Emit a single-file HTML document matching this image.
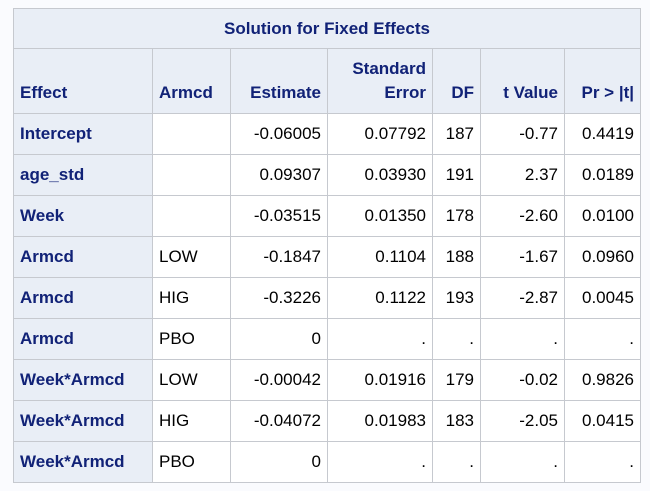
<!DOCTYPE html>
<html><head><meta charset="utf-8"><style>
html,body{margin:0;padding:0;background:#fafbfe;width:650px;height:491px;overflow:hidden}
table{position:absolute;left:13px;top:8px;border-collapse:collapse;font-family:"Liberation Sans",Arial,sans-serif;font-size:17px;color:#000;table-layout:fixed}
td,th{border:1px solid #c6c9cf;padding:0 6px;height:40px;white-space:nowrap;box-sizing:border-box;overflow:hidden}
th{background:#e9eef6;color:#112277;font-weight:bold}
.t th{height:40px;text-align:center}
.h th{height:65px;vertical-align:bottom;padding-bottom:8px;line-height:24px;text-align:right}
.h th.l{text-align:left}
td{background:#fff;text-align:right}
td.l{text-align:left}
th.rh{text-align:left}
tr.r td,tr.r th{height:41px}
</style></head><body>
<table>
<colgroup><col style="width:139px"><col style="width:78px"><col style="width:97px"><col style="width:105px"><col style="width:48px"><col style="width:84px"><col style="width:76px"></colgroup>
<tr class="t"><th colspan="7">Solution for Fixed Effects</th></tr>
<tr class="h"><th class="l">Effect</th><th class="l">Armcd</th><th>Estimate</th><th>Standard<br>Error</th><th>DF</th><th>t Value</th><th>Pr &gt; |t|</th></tr>
<tr class="r"><th class="rh">Intercept</th><td class="l"></td><td>-0.06005</td><td>0.07792</td><td>187</td><td>-0.77</td><td>0.4419</td></tr>
<tr class="r"><th class="rh">age_std</th><td class="l"></td><td>0.09307</td><td>0.03930</td><td>191</td><td>2.37</td><td>0.0189</td></tr>
<tr class="r"><th class="rh">Week</th><td class="l"></td><td>-0.03515</td><td>0.01350</td><td>178</td><td>-2.60</td><td>0.0100</td></tr>
<tr class="r"><th class="rh">Armcd</th><td class="l">LOW</td><td>-0.1847</td><td>0.1104</td><td>188</td><td>-1.67</td><td>0.0960</td></tr>
<tr class="r"><th class="rh">Armcd</th><td class="l">HIG</td><td>-0.3226</td><td>0.1122</td><td>193</td><td>-2.87</td><td>0.0045</td></tr>
<tr class="r"><th class="rh">Armcd</th><td class="l">PBO</td><td>0</td><td>.</td><td>.</td><td>.</td><td>.</td></tr>
<tr class="r"><th class="rh">Week*Armcd</th><td class="l">LOW</td><td>-0.00042</td><td>0.01916</td><td>179</td><td>-0.02</td><td>0.9826</td></tr>
<tr class="r"><th class="rh">Week*Armcd</th><td class="l">HIG</td><td>-0.04072</td><td>0.01983</td><td>183</td><td>-2.05</td><td>0.0415</td></tr>
<tr class="r"><th class="rh">Week*Armcd</th><td class="l">PBO</td><td>0</td><td>.</td><td>.</td><td>.</td><td>.</td></tr>
</table>
</body></html>
